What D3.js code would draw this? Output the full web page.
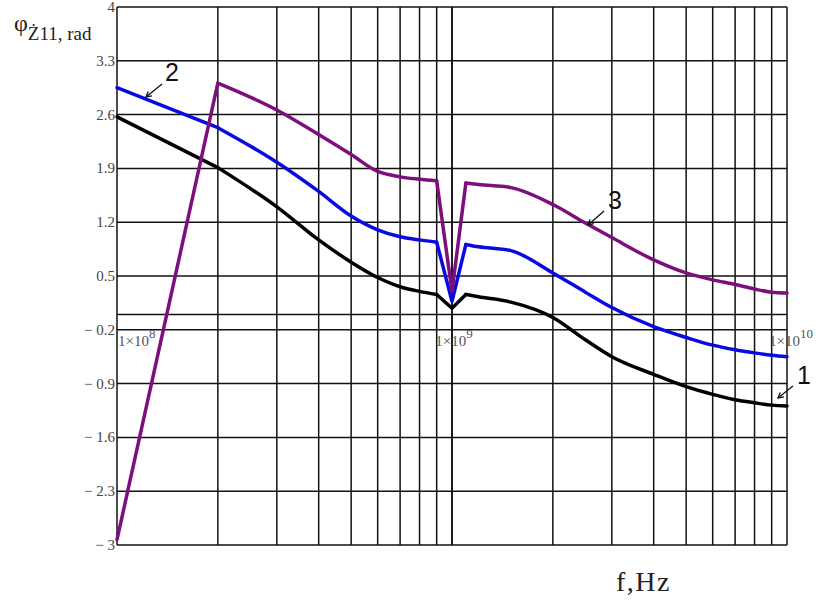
<!DOCTYPE html>
<html>
<head>
<meta charset="utf-8">
<script src="https://cdn.jsdelivr.net/npm/d3@7"></script>
<style>
  body { margin: 0; background: #fff; }
  svg { display: block; font-family: "Liberation Serif", "DejaVu Serif", serif; }
</style>
</head>
<body>
<div id="chart"></div>
<script>
var width = 818, height = 604;
var margin = {left: 117, right: 31, top: 7, bottom: 59};

// frequencies, Hz
var freq = [1e8, 2e8, 3e8, 4e8, 5e8, 6e8, 7e8, 8e8, 9e8, 1e9, 1.1e9, 1.2e9, 1.5e9, 2e9, 2.5e9, 3e9, 4e9, 5e9, 6e9, 7e9, 8e9, 9e9, 1e10];
// phase of Z11, rad
var curve1 = [2.57, 1.91, 1.40, 0.97, 0.68, 0.48, 0.36, 0.30, 0.26, 0.08, 0.26, 0.23, 0.16, -0.04, -0.33, -0.55, -0.78, -0.94, -1.04, -1.11, -1.15, -1.18, -1.19];
var curve2 = [2.95, 2.43, 1.98, 1.60, 1.28, 1.10, 1.01, 0.97, 0.94, 0.17, 0.91, 0.88, 0.83, 0.54, 0.29, 0.09, -0.16, -0.30, -0.40, -0.46, -0.50, -0.53, -0.55];
var curve3 = [-2.93, 3.01, 2.66, 2.34, 2.08, 1.86, 1.79, 1.76, 1.74, 0.30, 1.71, 1.69, 1.65, 1.43, 1.19, 1.00, 0.71, 0.54, 0.45, 0.39, 0.33, 0.29, 0.28];
var yTicks = [-3, -2.3, -1.6, -0.9, -0.2, 0.5, 1.2, 1.9, 2.6, 3.3, 4];
var xTickExp = [8, 9, 10];

var series = [
  {name: "1", values: curve1, color: "#000000"},
  {name: "2", values: curve2, color: "#0a0ae0"},
  {name: "3", values: curve3, color: "#7d0f7d"}
];

var svg = d3.select("#chart").append("svg").attr("width", width).attr("height", height);

var x = d3.scaleLog().domain([1e8, 1e10]).range([margin.left, width - margin.right]);
var y = d3.scaleLinear().domain([-3, 4]).range([height - margin.bottom, margin.top]);

// grid
var grid = svg.append("g").attr("stroke", "#111").attr("stroke-width", 1.5);
var minor = [];
[1e8, 1e9].forEach(function(d) { for (var k = 1; k <= 10; k++) minor.push(d * k); });
grid.selectAll(".vx").data(minor).enter().append("line")
  .attr("x1", function(d) { return x(d); }).attr("x2", function(d) { return x(d); })
  .attr("y1", y(4)).attr("y2", y(-3));
grid.selectAll(".hy").data(yTicks.concat([0])).enter().append("line")
  .attr("x1", x(1e8)).attr("x2", x(1e10))
  .attr("y1", function(d) { return y(d); }).attr("y2", function(d) { return y(d); });

// y tick labels
svg.append("g").selectAll("text").data(yTicks).enter().append("text")
  .attr("x", margin.left - 2).attr("y", function(d) { return y(d) + 5; })
  .attr("text-anchor", "end").attr("font-size", 15).attr("fill", "#444")
  .text(function(d) { return d < 0 ? "\u2212 " + Math.abs(d) : d; });

// x tick labels at y = 0
var xl = svg.append("g").attr("fill", "#555").attr("font-size", 15);
xTickExp.forEach(function(e) {
  var px = x(Math.pow(10, e));
  var t = xl.append("text").attr("y", y(0) + 32);
  if (e === 8) t.attr("x", px + 1).attr("text-anchor", "start");
  else if (e === 10) t.attr("x", px + 26).attr("text-anchor", "end");
  else t.attr("x", px + 2).attr("text-anchor", "middle");
  t.append("tspan").text("1\u00d710");
  t.append("tspan").attr("dy", -8).attr("font-size", 13).text(e);
});

// curves: straight segments at the sharp parts, smooth elsewhere
var line = d3.line()
  .x(function(d) { return x(d[0]); })
  .y(function(d) { return y(d[1]); })
  .curve(d3.curveLinear);
var smooth = d3.line()
  .x(function(d) { return x(d[0]); })
  .y(function(d) { return y(d[1]); })
  .curve(d3.curveMonotoneX);
var i2 = freq.indexOf(2e8), i9 = freq.indexOf(9e8), i11 = freq.indexOf(1.1e9);
var cg = svg.append("g").attr("fill", "none").attr("stroke-width", 3.5)
  .attr("stroke-linejoin", "round").attr("stroke-linecap", "round");
series.forEach(function(s) {
  var pts = d3.zip(freq, s.values);
  cg.append("path").attr("stroke", s.color).attr("d", line(pts.slice(0, i2 + 1)));
  cg.append("path").attr("stroke", s.color).attr("d", smooth(pts.slice(i2, i9 + 1)));
  cg.append("path").attr("stroke", s.color).attr("d", line(pts.slice(i9, i11 + 1)));
  cg.append("path").attr("stroke", s.color).attr("d", smooth(pts.slice(i11)));
});

// curve labels with arrows
var notes = [
  {t: "2", tx: 165, ty: 81, x1: 162, y1: 84, x2: 146, y2: 97},
  {t: "3", tx: 608, ty: 209, x1: 604, y1: 211, x2: 588, y2: 225},
  {t: "1", tx: 797, ty: 384, x1: 793, y1: 386, x2: 778, y2: 398}
];
var ng = svg.append("g");
notes.forEach(function(n) {
  ng.append("text").attr("x", n.tx).attr("y", n.ty).attr("font-family", "Liberation Sans, Arial, sans-serif")
    .attr("font-size", 25).attr("fill", "#111").text(n.t);
  ng.append("line").attr("x1", n.x1).attr("y1", n.y1).attr("x2", n.x2).attr("y2", n.y2)
    .attr("stroke", "#111").attr("stroke-width", 1.3);
  var a = Math.atan2(n.y2 - n.y1, n.x2 - n.x1);
  var hl = 6;
  ng.append("path").attr("fill", "none").attr("stroke", "#111").attr("stroke-width", 1.3)
    .attr("d", "M" + (n.x2 - hl * Math.cos(a - 0.5)) + "," + (n.y2 - hl * Math.sin(a - 0.5)) +
      "L" + n.x2 + "," + n.y2 +
      "L" + (n.x2 - hl * Math.cos(a + 0.5)) + "," + (n.y2 - hl * Math.sin(a + 0.5)));
});

// axis titles
var yt = svg.append("text").attr("x", 14).attr("y", 31).attr("fill", "#222");
yt.append("tspan").attr("font-size", 24).text("\u03c6");
yt.append("tspan").attr("font-size", 19).attr("dy", 9).text("\u017b11, rad");

svg.append("text").attr("x", 616).attr("y", 591).attr("font-size", 28)
  .attr("letter-spacing", 1.5).attr("fill", "#222").text("f,Hz");
</script>
</body>
</html>
